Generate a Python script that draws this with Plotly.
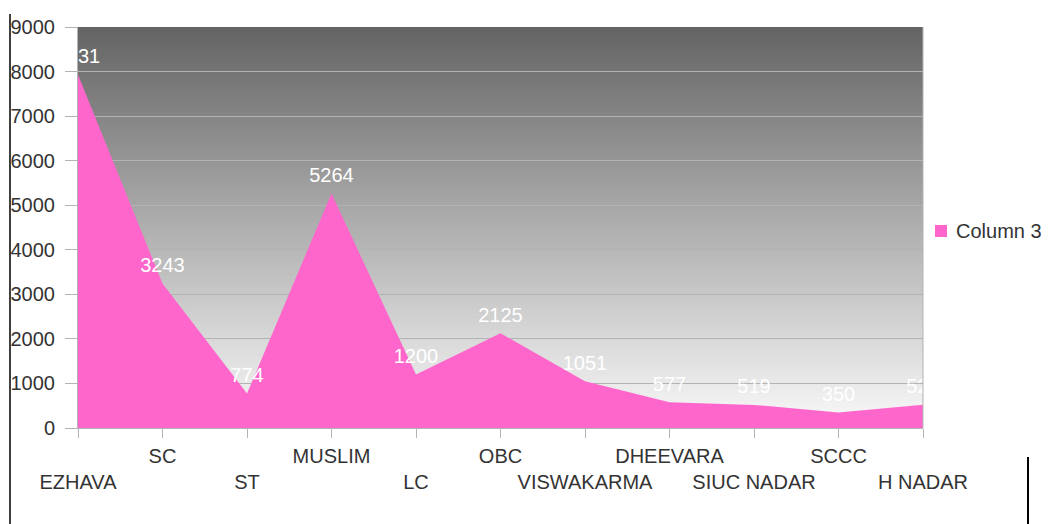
import base64
import struct
import zlib

import plotly.graph_objects as go

categories = ["EZHAVA", "SC", "ST", "MUSLIM", "LC", "OBC", "VISWAKARMA",
              "DHEEVARA", "SIUC NADAR", "SCCC", "H NADAR"]
values = [7931, 3243, 774, 5264, 1200, 2125, 1051, 577, 519, 350, 523]
series_name = "Column 3"
y_ticks = list(range(0, 9001, 1000))

FONT = "Liberation Sans, Arial, sans-serif"
TXT = "#333333"
PINK = "#ff66cc"
FS = 20


def gradient_png(top=100, bottom=250, rows=256):
    """Vertical grey gradient PNG (1 px wide) as a data URI."""
    raw = b""
    for r in range(rows):
        g = int(round(top + (bottom - top) * r / (rows - 1)))
        raw += b"\x00" + bytes([g, g, g])
    def chunk(tag, data):
        c = struct.pack(">I", len(data)) + tag + data
        return c + struct.pack(">I", zlib.crc32(tag + data) & 0xffffffff)
    png = b"\x89PNG\r\n\x1a\n"
    png += chunk(b"IHDR", struct.pack(">IIBBBBB", 1, rows, 8, 2, 0, 0, 0))
    png += chunk(b"IDAT", zlib.compress(raw))
    png += chunk(b"IEND", b"")
    return "data:image/png;base64," + base64.b64encode(png).decode()


x_idx = list(range(len(categories)))
tick_text = [c if i % 2 else "<br>" + c for i, c in enumerate(categories)]

fig = go.Figure()
fig.add_trace(go.Scatter(
    x=x_idx, y=values, name=series_name, mode="lines+markers+text",
    fill="tozeroy", fillcolor=PINK, line=dict(color=PINK, width=0),
    marker=dict(size=9, color="rgba(0,0,0,0)"),
    text=[str(v) for v in values], textposition="top center",
    textfont=dict(color="white", size=FS, family=FONT),
    cliponaxis=True, showlegend=False,
))

# page body offsets the figure by 8px; coordinates below are screen-based
L, R, T, B = 70, 134, 19, 104
pw = 1049 - L - R
ph = 524 - T - B
def px(x):
    return (x - 8 - L) / pw
def py(y):
    return (524 - B - (y - 8)) / ph

shapes = []
shapes.append(dict(type="line", xref="paper", yref="paper", x0=px(10), x1=px(10),
                   y0=py(14), y1=py(540), line=dict(color="black", width=1.5)))
shapes.append(dict(type="line", xref="paper", yref="paper", x0=px(1028), x1=px(1028),
                   y0=py(457), y1=py(540), line=dict(color="black", width=2)))
shapes.append(dict(type="line", xref="paper", yref="paper", x0=1, x1=1, y0=0, y1=1,
                   line=dict(color="#b3b3b3", width=1)))
# legend swatch
shapes.append(dict(type="rect", xref="paper", yref="paper",
                   x0=px(935), x1=px(947), y0=py(237), y1=py(225),
                   fillcolor=PINK, line=dict(width=0)))

annotations = [dict(xref="paper", yref="paper", x=px(954), y=py(231),
                    xanchor="left", yanchor="middle", showarrow=False,
                    text=series_name, font=dict(size=FS, color=TXT, family=FONT))]

images = [dict(source=gradient_png(), xref="paper", yref="paper", x=0, y=1,
               sizex=1, sizey=1, xanchor="left", yanchor="top",
               sizing="stretch", layer="below")]

fig.update_layout(
    width=1049, height=524,
    margin=dict(l=L, r=R, t=T, b=B),
    paper_bgcolor="white", plot_bgcolor="white",
    font=dict(family=FONT, size=FS, color=TXT),
    shapes=shapes, annotations=annotations, images=images,
    showlegend=False,
    xaxis=dict(range=[0, 10], tickmode="array", tickvals=x_idx, ticktext=tick_text,
               tickangle=0, automargin=False, ticklabelstandoff=1,
               showgrid=False, zeroline=False, showline=True, linecolor="#b3b3b3",
               ticks="outside", ticklen=9, tickcolor="#b3b3b3",
               tickfont=dict(size=FS, color=TXT), fixedrange=True),
    yaxis=dict(range=[0, 9000], tickmode="array", tickvals=y_ticks, automargin=False,
               showgrid=True, gridcolor="#b3b3b3", gridwidth=1, zeroline=False,
               showline=True, linecolor="#b3b3b3", ticks="outside", ticklen=12,
               ticklabelstandoff=6,
               tickcolor="#b3b3b3", tickfont=dict(size=FS, color=TXT), fixedrange=True),
)

fig.write_html("out.html")
